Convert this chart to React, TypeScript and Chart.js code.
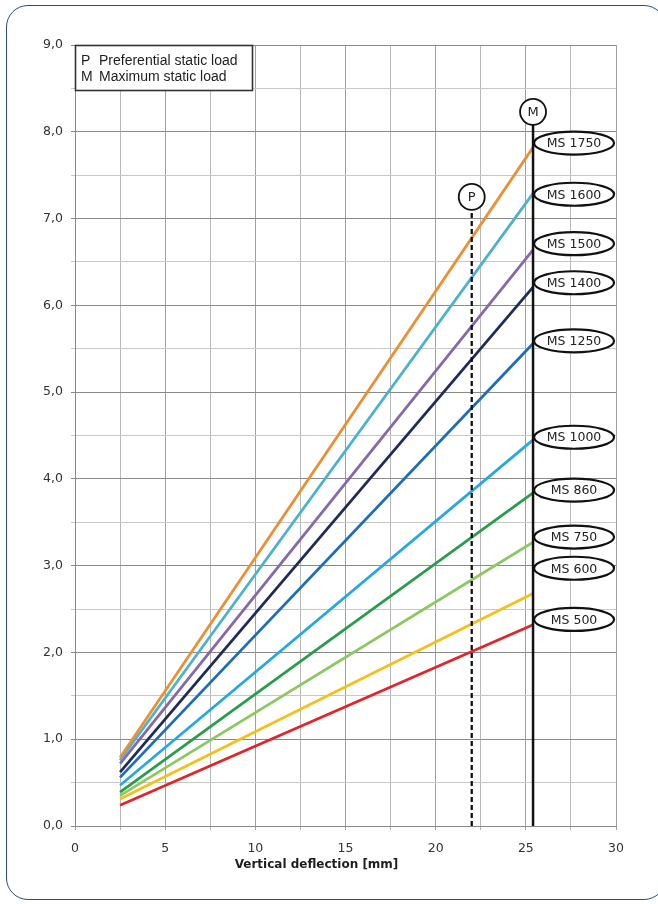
import React, { useEffect, useRef } from "react";
import { Chart, registerables } from "chart.js";

Chart.register(...registerables);

// ---- data ----
const deflection = [2.5, 25.4];
const seriesNames = ["MS 1750", "MS 1600", "MS 1500", "MS 1400", "MS 1250", "MS 1000", "MS 860", "MS 750", "MS 600", "MS 500"];
const ms1750 = [0.79, 7.82];
const ms1600 = [0.76, 7.29];
const ms1500 = [0.72, 6.64];
const ms1400 = [0.62, 6.21];
const ms1250 = [0.56, 5.56];
const ms1000 = [0.47, 4.45];
const ms860 = [0.39, 3.84];
const ms750 = [0.35, 3.27];
const ms600 = [0.31, 2.68];
const ms500 = [0.24, 2.32];
const seriesColors = ["#e8913a", "#4fb2c9", "#8768a8", "#1f2b5a", "#1f6db5", "#2aa7df", "#2a9c4c", "#8dc865", "#f4c01d", "#e0262b"];
const labelLevels = [7.87, 7.28, 6.71, 6.26, 5.59, 4.48, 3.87, 3.33, 2.97, 2.38];
const maxLoadX = 25.4;
const maxLoadTop = 8.08;
const prefLoadX = 22;
const prefLoadTop = 7.1;
const xTicks = { min: 0, max: 30, step: 2.5, labelEvery: 5 };
const yTicks = { min: 0, max: 9, step: 0.5 };
const legendLines = [["P", "Preferential static load"], ["M", "Maximum static load"]];
const xTitle = "Vertical deflection [mm]";

const seriesValues = [ms1750, ms1600, ms1500, ms1400, ms1250, ms1000, ms860, ms750, ms600, ms500];

const overlayPlugin = {
  id: "overlay",
  afterDatasetsDraw(chart: any) {
    const { ctx, chartArea, scales } = chart;
    const xs = scales.x;
    const ys = scales.y;
    ctx.save();
    // legend box
    const lx = chartArea.left;
    const ly = chartArea.top;
    ctx.fillStyle = "#ffffff";
    ctx.fillRect(lx, ly, 177, 45);
    ctx.strokeStyle = "#333333";
    ctx.lineWidth = 1.6;
    ctx.strokeRect(lx + 0.5, ly + 0.5, 177, 45);
    ctx.fillStyle = "#1e1e1e";
    ctx.font = "14px 'Liberation Sans', Arial, sans-serif";
    ctx.textBaseline = "middle";
    ctx.textAlign = "left";
    legendLines.forEach((l, i) => {
      const yy = ly + 16 + i * 16;
      ctx.fillText(l[0], lx + 6, yy);
      ctx.fillText(l[1], lx + 24, yy);
    });

    // circles M and P
    const drawCircle = (xv: number, yv: number, t: string) => {
      const px = xs.getPixelForValue(xv);
      const py = ys.getPixelForValue(yv) - 13;
      ctx.beginPath();
      ctx.arc(px, py, 13, 0, Math.PI * 2);
      ctx.fillStyle = "#ffffff";
      ctx.fill();
      ctx.lineWidth = 1.8;
      ctx.strokeStyle = "#111111";
      ctx.stroke();
      ctx.fillStyle = "#222222";
      ctx.font = "13px 'DejaVu Sans'";
      ctx.textAlign = "center";
      ctx.textBaseline = "middle";
      ctx.fillText(t, px, py + 1);
    };
    drawCircle(maxLoadX, maxLoadTop, "M");
    drawCircle(prefLoadX, prefLoadTop, "P");

    // ellipse labels
    const mx = xs.getPixelForValue(maxLoadX);
    seriesNames.forEach((name, i) => {
      const cy = ys.getPixelForValue(labelLevels[i]);
      const cx = mx + 41;
      ctx.beginPath();
      ctx.ellipse(cx, cy, 40, 11.5, 0, 0, Math.PI * 2);
      ctx.fillStyle = "#ffffff";
      ctx.fill();
      ctx.lineWidth = 2.2;
      ctx.strokeStyle = "#111111";
      ctx.stroke();
      ctx.fillStyle = "#222222";
      ctx.font = "12.5px 'DejaVu Sans'";
      ctx.textAlign = "center";
      ctx.textBaseline = "middle";
      ctx.fillText(name, cx, cy + 1);
    });

    // x-axis title (sits slightly left of centre in the original)
    ctx.fillStyle = "#1e1e1e";
    ctx.font = "bold 12px 'DejaVu Sans'";
    ctx.textAlign = "center";
    ctx.textBaseline = "middle";
    ctx.fillText(xTitle, (chartArea.left + chartArea.right) / 2 - 29, chartArea.bottom + 39);
    ctx.restore();
  },
};

export default function App() {
  const ref = useRef<HTMLCanvasElement>(null);
  useEffect(() => {
    if (!ref.current) return;
    const datasets: any[] = seriesValues.map((vals, i) => ({
      label: seriesNames[i],
      data: deflection.map((x, j) => ({ x, y: vals[j] })),
      borderColor: seriesColors[i],
      backgroundColor: seriesColors[i],
      borderWidth: 2.8,
      pointRadius: 0,
      order: 2,
    }));
    datasets.push({
      label: "M",
      data: [{ x: maxLoadX, y: 0 }, { x: maxLoadX, y: maxLoadTop }],
      borderColor: "#111111",
      borderWidth: 2.5,
      pointRadius: 0,
      order: 1,
    });
    datasets.push({
      label: "P",
      data: [{ x: prefLoadX, y: 0 }, { x: prefLoadX, y: prefLoadTop }],
      borderColor: "#111111",
      borderWidth: 2.3,
      borderDash: [5, 3],
      pointRadius: 0,
      order: 1,
    });
    const chart = new Chart(ref.current, {
      type: "line",
      data: { datasets },
      plugins: [overlayPlugin],
      options: {
        animation: false,
        responsive: false,
        devicePixelRatio: 1,
        layout: { padding: { left: 0, right: 42, top: 45, bottom: 32 } },
        plugins: { legend: { display: false }, tooltip: { enabled: false } },
        scales: {
          x: {
            type: "linear",
            min: xTicks.min,
            max: xTicks.max,
            afterFit: (s: any) => { s.height = 46; },
            border: { color: "#888888", width: 1 },
            grid: {
              color: (c: any) => (c.tick && c.tick.value % xTicks.labelEvery === 0 ? "#a0a0a0" : "#b8b8b8"),
              lineWidth: 1,
              tickLength: 4,
            },
            ticks: {
              stepSize: xTicks.step,
              autoSkip: false,
              maxRotation: 0,
              padding: 11,
              color: "#333333",
              font: { family: "'DejaVu Sans'", size: 12.5 },
              callback: (v: any) => (Number(v) % xTicks.labelEvery === 0 ? String(v) : ""),
            },
            title: { display: false },
          },
          y: {
            type: "linear",
            min: yTicks.min,
            max: yTicks.max,
            afterFit: (s: any) => { s.width = 75; },
            border: { color: "#888888", width: 1 },
            grid: {
              color: (c: any) => (c.tick && Math.abs(c.tick.value % 1) < 1e-6 ? "#8a8a8a" : "#c8c8c8"),
              lineWidth: 1,
              tickLength: 4,
            },
            ticks: {
              stepSize: yTicks.step,
              autoSkip: false,
              padding: 8,
              color: "#333333",
              font: { family: "'DejaVu Sans'", size: 12.5 },
              callback: (v: any) => (Math.abs(Number(v) % 1) < 1e-6 ? Number(v).toFixed(1).replace(".", ",") : ""),
            },
          },
        },
      } as any,
    });
    return () => chart.destroy();
  }, []);

  return (
    <div style={{ position: "fixed", left: 0, top: 0, width: 658, height: 904, background: "#ffffff", overflow: "hidden" }}>
      <div
        style={{
          position: "absolute",
          left: 6,
          top: 5,
          width: 660,
          height: 895,
          border: "1.5px solid #2d4a7a",
          borderRadius: 22,
          boxSizing: "border-box",
        }}
      />
      <canvas ref={ref} width={658} height={904} style={{ position: "absolute", left: 0, top: 0, width: 658, height: 904 }} />
    </div>
  );
}
